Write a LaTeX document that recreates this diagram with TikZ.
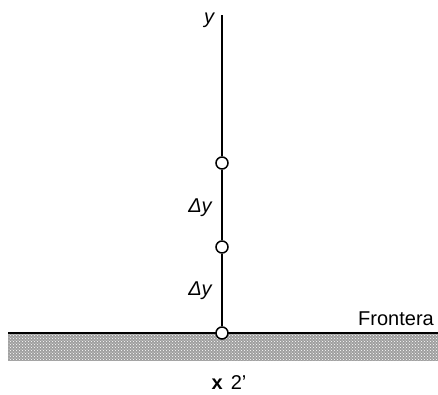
\documentclass[tikz,border=0pt]{standalone}
\usepackage{fontspec}
\setmainfont{Liberation Sans}
\usetikzlibrary{patterns}
\begin{document}
\begin{tikzpicture}[x=1pt,y=-1pt,
  pt/.style={circle,draw=black,fill=white,line width=1.5pt,minimum size=12pt,inner sep=0pt},
  lbl/.style={font=\fontsize{20}{22}\selectfont\itshape,inner sep=0pt,anchor=base},
  txt/.style={font=\fontsize{20}{22}\selectfont,inner sep=0pt,anchor=base}]
\useasboundingbox (0,0) rectangle (438,394);
\fill[gray!75] (8,333) rectangle (438,361);
\fill[pattern=crosshatch dots,pattern color=white] (8,333) rectangle (438,361);
\coordinate (top) at (222,15);
\coordinate (bl) at (8,333);
\coordinate (br) at (438,333);
\draw[line width=1.6pt] (bl) -- (br);
\node[pt] (p0) at (222,333) {};
\node[pt] (p1) at (222,247) {};
\node[pt] (p2) at (222,163) {};
\draw[line width=1.6pt] (top) -- (p2) (p2) -- (p1) (p1) -- (p0);
\node[lbl] (ly) at (209,23) {y};
\node[lbl] (d1) at (200,212) {Δy};
\node[lbl] (d2) at (200,295) {Δy};
\node[txt] (fr) at (396,325) {Frontera};
\node[txt] (xl) at (229,389) {\textbf{x}\hspace{8pt}2'};
\end{tikzpicture}
\end{document}
